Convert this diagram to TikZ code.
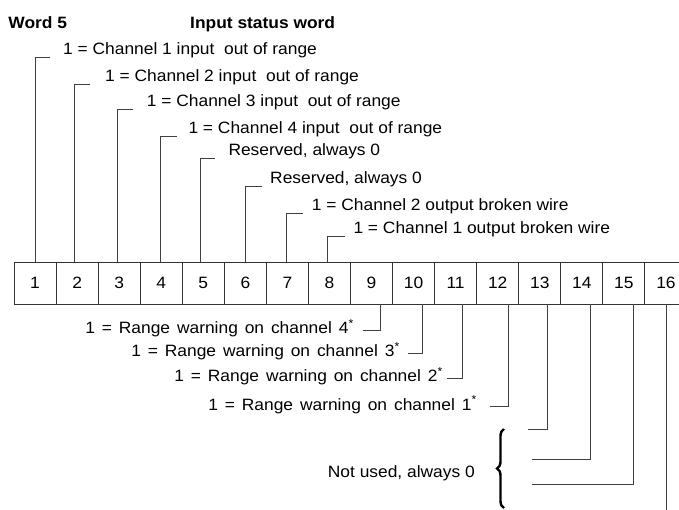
\documentclass[tikz,border=0pt]{standalone}
\usepackage{fontspec}
\setmainfont{Liberation Sans}[FakeStretch=1.06]
\usetikzlibrary{decorations.pathreplacing}
\newcommand\mywidesp{\spaceskip=6.9pt plus 1pt\relax}
\begin{document}
\begin{tikzpicture}[x=1pt,y=-1pt,
  font=\fontsize{16.4}{20}\selectfont,
  cell/.style={draw=black!80, line width=0.9pt, minimum width=42.06pt, minimum height=42pt, inner sep=0pt},
  lbl/.style={inner sep=0pt},
  lead/.style={draw=black!75, line width=0.9pt},
  hdr/.style={inner sep=0pt, font=\fontsize{16.4}{20}\selectfont\bfseries}]
\useasboundingbox (0,0) rectangle (679,509);

% headers
\node[hdr, anchor=base west] (w5) at (8.3,28.3) {Word 5};
\node[hdr, anchor=base west] (isw) at (190,28.3) {Input status word};

% bit cells
\foreach \i in {1,...,16}
  \node[cell] (c\i) at ({14+(\i-0.5)*42.06},283) {\i};

% upper labels
\node[lbl, anchor=base west] (t1) at (63,54.5)    {1 = Channel 1 input\ \ out of range};
\node[lbl, anchor=base west] (t2) at (105,81.3)   {1 = Channel 2 input\ \ out of range};
\node[lbl, anchor=base west] (t3) at (146.7,106)  {1 = Channel 3 input\ \ out of range};
\node[lbl, anchor=base west] (t4) at (188.3,133.7){1 = Channel 4 input\ \ out of range};
\node[lbl, anchor=base west] (t5) at (228.3,155.3){Reserved, always 0};
\node[lbl, anchor=base west] (t6) at (270,183.7)  {Reserved, always 0};
\node[lbl, anchor=base west] (t7) at (311.7,210.3){1 = Channel 2 output broken wire};
\node[lbl, anchor=base west] (t8) at (353.3,233)  {1 = Channel 1 output broken wire};

\draw[lead] (c1.north)                |- ([xshift=-13pt,yshift=-3pt]t1.base west);
\draw[lead] ([xshift=-3pt]c2.north)   |- ([xshift=-15pt,yshift=-3pt]t2.base west);
\draw[lead] ([xshift=-1.8pt]c3.north) |- ([xshift=-13.4pt,yshift=-3pt]t3.base west);
\draw[lead] ([xshift=-1.2pt]c4.north) |- ([xshift=-11.6pt,yshift=-3pt]t4.base west);
\draw[lead] ([xshift=-3.3pt]c5.north) |- ([xshift=-13.3pt,yshift=-3pt]t5.base west);
\draw[lead] ([xshift=-0.3pt]c6.north) |- ([xshift=-8.3pt,yshift=-3pt]t6.base west);
\draw[lead] ([xshift=-0.7pt]c7.north) |- ([xshift=-8.4pt,yshift=-3pt]t7.base west);
\draw[lead] ([xshift=-2.1pt]c8.north) |- ([xshift=-8.3pt,yshift=-3pt]t8.base west);

% lower labels
\node[lbl, anchor=base east] (b9)  at (354,333.5)  {\mywidesp 1 = Range warning on channel 4\textsuperscript{*}};
\node[lbl, anchor=base east] (b10) at (400,356.8)  {\mywidesp 1 = Range warning on channel 3\textsuperscript{*}};
\node[lbl, anchor=base east] (b11) at (443,381.8)  {\mywidesp 1 = Range warning on channel 2\textsuperscript{*}};
\node[lbl, anchor=base east] (b12) at (477,410.2)  {\mywidesp 1 = Range warning on channel 1\textsuperscript{*}};

\draw[lead] ([xshift=8.5pt]c9.south)  |- ([xshift=9pt,yshift=3.5pt]b9.base east);
\draw[lead] ([xshift=8.7pt]c10.south) |- ([xshift=8pt,yshift=3.5pt]b10.base east);
\draw[lead] ([xshift=6.7pt]c11.south) |- ([xshift=4pt,yshift=3.5pt]b11.base east);
\draw[lead] ([xshift=10.3pt]c12.south)|- ([xshift=13pt,yshift=3.5pt]b12.base east);

% unused bits
\coordinate (e13) at (528.3,429);
\coordinate (e14) at (532.3,459.3);
\coordinate (e15) at (532.3,484.3);
\coordinate (e16) at (666.7,515);
\draw[lead] ([xshift=8pt]c13.south)   |- (e13);
\draw[lead] ([xshift=8.2pt]c14.south) |- (e14);
\draw[lead] ([xshift=9.5pt]c15.south) |- (e15);
\draw[lead] ([xshift=0.7pt]c16.south) -- ([xshift=0.7pt]c16.south |- e16);

\node[lbl, anchor=base east] (nu) at (475,477) {Not used, always 0};
\draw[line width=2.4pt, decorate, decoration={brace, amplitude=7pt}] (504,508) -- (504,429);
\end{tikzpicture}
\end{document}
